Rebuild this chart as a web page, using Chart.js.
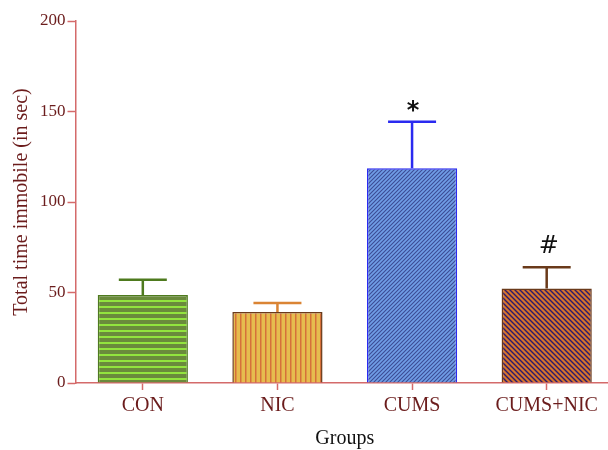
<!DOCTYPE html>
<html>
<head>
<meta charset="utf-8">
<script src="https://cdn.jsdelivr.net/npm/chart.js@4"></script>
<style>
  html, body { margin: 0; padding: 0; background: #fff; overflow: hidden; }
  #wrap { width: 614px; height: 450px; }
</style>
</head>
<body>
<div id="wrap"><canvas id="barGraph" width="614" height="450"></canvas></div>
<script>
var groups = ["CON", "NIC", "CUMS", "CUMS+NIC"];
var means = [48.6, 39.2, 118.6, 52.2];
var sems = [8.4, 5.0, 25.8, 11.8];
var marks = ["", "", "*", "#"];
var yTicks = [0, 50, 100, 150, 200];

var axisColor = '#d46a6a';
var textColor = '#6b1c1c';

function stripes(w, h, bg, fg, draw) {
    var c = document.createElement('canvas');
    c.width = w; c.height = h;
    var x = c.getContext('2d');
    x.fillStyle = bg;
    x.fillRect(0, 0, w, h);
    x.fillStyle = fg;
    x.strokeStyle = fg;
    draw(x, w, h);
    return x.createPattern(c, 'repeat');
}

var ctx = document.getElementById('barGraph').getContext('2d');

var fills = [
    stripes(6, 6, '#6a8a3c', '#92e43e', function (x, w, h) { x.fillRect(0, 0, w, 2); }),
    stripes(5, 5, '#e6bc4e', '#d6703a', function (x, w, h) { x.fillRect(0, 0, 1.5, h); }),
    stripes(4, 4, '#709ee6', '#3c4c94', function (x, w, h) {
        x.lineWidth = 1.1;
        x.beginPath();
        x.moveTo(-1, 5); x.lineTo(5, -1);
        x.moveTo(-1, 1); x.lineTo(1, -1);
        x.moveTo(3, 5); x.lineTo(5, 3);
        x.stroke();
    }),
    stripes(5, 5, '#d6742c', '#2c1a6a', function (x, w, h) {
        x.lineWidth = 1.4;
        x.beginPath();
        x.moveTo(-1, -1); x.lineTo(6, 6);
        x.moveTo(-1, 4); x.lineTo(1, 6);
        x.moveTo(4, -1); x.lineTo(6, 1);
        x.stroke();
    })
];
var borders = ['#4e7a1e', '#6a3a1a', '#2a2af0', '#6a3a1a'];
var errColors = ['#4e7a1e', '#da8434', '#2a2af0', '#6a3a1a'];

var errorBars = {
    id: 'errorBars',
    afterDatasetsDraw: function (chart) {
        var c = chart.ctx;
        var meta = chart.getDatasetMeta(0);
        var ys = chart.scales.y;
        c.save();
        meta.data.forEach(function (bar, i) {
            var top = ys.getPixelForValue(means[i] + sems[i]);
            var base = ys.getPixelForValue(means[i]);
            c.strokeStyle = errColors[i];
            c.lineWidth = 2.5;
            c.beginPath();
            c.moveTo(bar.x, base);
            c.lineTo(bar.x, top);
            c.moveTo(bar.x - 24, top);
            c.lineTo(bar.x + 24, top);
            c.stroke();
            if (marks[i]) {
                c.fillStyle = '#111';
                c.textAlign = 'center';
                c.textBaseline = 'alphabetic';
                if (marks[i] === '*') {
                    c.font = 'bold 24px "DejaVu Sans", sans-serif';
                    c.fillText(marks[i], bar.x + 1, top - 4);
                } else {
                    c.font = '24px "DejaVu Sans", sans-serif';
                    c.fillText(marks[i], bar.x + 2, top - 14);
                }
            }
        });
        c.restore();
    }
};

new Chart(ctx, {
    type: 'bar',
    data: {
        labels: groups,
        datasets: [{
            data: means,
            backgroundColor: fills,
            borderColor: borders,
            borderWidth: 1.5,
            barPercentage: 0.67,
            categoryPercentage: 1
        }]
    },
    options: {
        responsive: false,
        animation: false,
        layout: { padding: { top: 21, left: 6, right: 0, bottom: 0 } },
        plugins: { legend: { display: false }, tooltip: { enabled: false } },
        scales: {
            x: {
                grid: { offset: false, drawOnChartArea: false, color: axisColor, tickLength: 7, tickWidth: 1.5 },
                border: { color: axisColor, width: 1.5 },
                ticks: { color: textColor, font: { family: 'Liberation Serif', size: 20, lineHeight: 1.1 }, padding: 5 },
                title: { display: true, text: 'Groups', color: '#111', font: { family: 'Liberation Serif', size: 20, lineHeight: 1.1 }, padding: { top: 6, bottom: 0 } }
            },
            y: {
                min: 0,
                max: 200,
                afterBuildTicks: function (axis) {
                    axis.ticks = yTicks.map(function (v) { return { value: v }; });
                },
                grid: { drawOnChartArea: false, color: axisColor, tickLength: 8, tickWidth: 1.5 },
                border: { color: axisColor, width: 1.5 },
                ticks: { color: textColor, font: { family: 'Liberation Serif', size: 17 }, padding: 2 },
                title: { display: true, text: 'Total time immobile (in sec)', color: textColor, font: { family: 'Liberation Serif', size: 20 }, padding: { bottom: 4 } }
            }
        }
    },
    plugins: [errorBars]
});
</script>
</body>
</html>
